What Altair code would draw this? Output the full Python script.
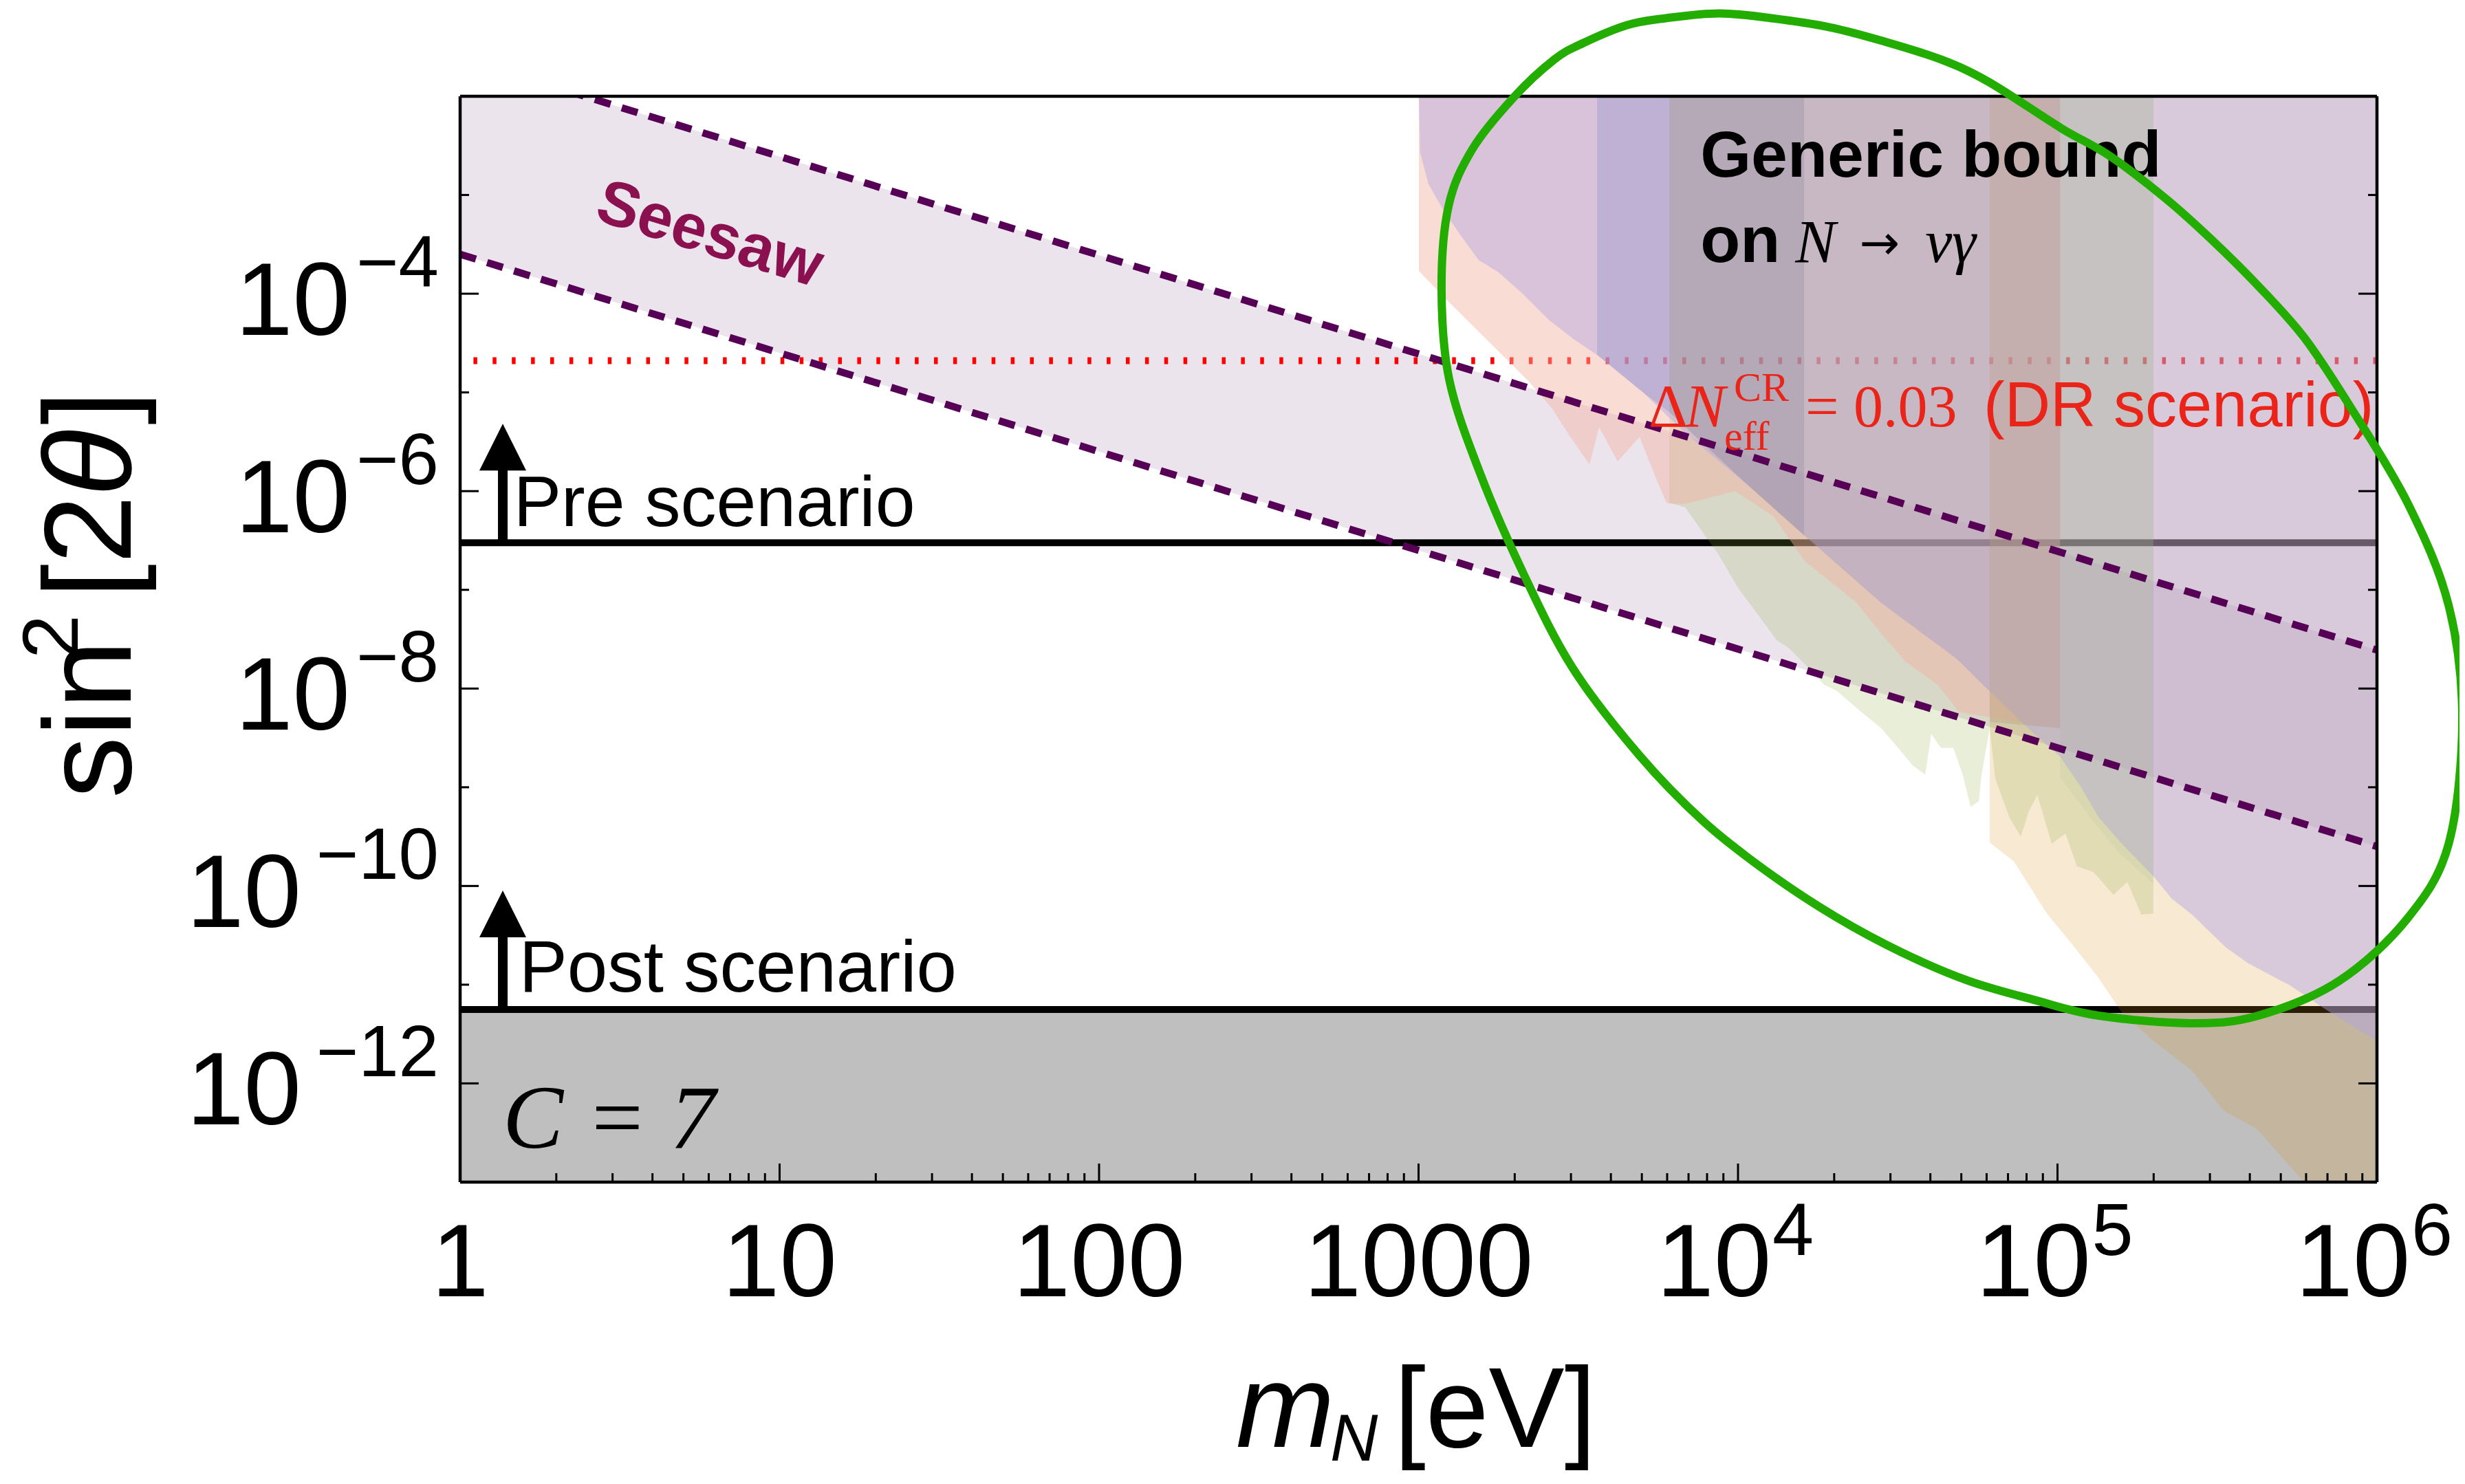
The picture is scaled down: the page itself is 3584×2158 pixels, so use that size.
import altair as alt
import pandas as pd

W, H = 2787, 1579
SANS = "Liberation Sans"
SERIF = "Liberation Serif"
TOP = 1e-2

xs = alt.Scale(type="log", domain=[1, 1e6], nice=False)
ys = alt.Scale(type="log", domain=[1e-13, 1e-2], nice=False)

# ---------------- values ----------------
PRE_LINE = 3.0e-7
POST_LINE = 5.6e-12
DR_LINE = 2.1e-5

SEESAW_M = [1, 1e6]
SEESAW_UPPER_LOG = [-1.61, -7.61]
SEESAW_LOWER_LOG = [-3.60, -9.60]

# X-ray bounds: log10(m), log10 of lower edge (regions extend to the top)
LAV_LOGM = [3.001, 3.005, 3.031, 3.081, 3.130, 3.188, 3.249, 3.326, 3.406, 3.485, 3.559, 3.703,
            3.834, 4.028, 4.209, 4.448, 4.685, 4.788, 4.921, 5.008, 5.070, 5.130, 5.201, 5.300,
            5.358, 5.421, 5.526, 5.595, 5.729, 5.834, 5.903, 6.000]
LAV_LOGS = [-2.00, -2.57, -2.89, -3.17, -3.40, -3.66, -3.78, -4.00, -4.26, -4.46, -4.62, -5.00,
            -5.41, -5.93, -6.45, -7.13, -7.70, -8.03, -8.44, -8.69, -8.98, -9.31, -9.57, -9.90,
            -10.13, -10.29, -10.62, -10.78, -11.01, -11.24, -11.38, -11.57]

SAL_LOGM = [3.001, 3.081, 3.150, 3.249, 3.348, 3.417, 3.475, 3.535, 3.565, 3.623, 3.692, 3.742,
            3.776, 3.834, 3.991, 4.112, 4.209, 4.368, 4.448, 4.525, 4.624, 4.693, 4.788, 5.008]
SAL_LOGS = [-3.77, -4.04, -4.26, -4.58, -4.90, -5.16, -5.45, -5.73, -5.35, -5.70, -5.45, -5.86,
            -6.12, -6.13, -6.00, -6.26, -6.71, -7.12, -7.44, -7.73, -7.96, -8.24, -8.29, -8.40]

GRN_LOGM = [3.785, 3.834, 3.903, 3.933, 4.002, 4.062, 4.121, 4.159, 4.230, 4.269, 4.308, 4.387,
            4.448, 4.506, 4.547, 4.586, 4.605, 4.635, 4.674, 4.704, 4.728, 4.754, 4.762, 4.788,
            4.805, 4.850, 4.885, 4.911, 4.937, 4.982, 5.025, 5.061, 5.113, 5.175, 5.219, 5.262, 5.300]
GRN_LOGS = [-6.12, -6.16, -6.48, -6.61, -6.99, -7.25, -7.51, -7.59, -7.82, -7.96, -8.02, -8.24,
            -8.40, -8.62, -8.78, -8.87, -8.46, -8.60, -8.60, -8.88, -9.20, -9.14, -8.88, -8.40,
            -8.91, -9.31, -9.50, -9.24, -9.08, -9.57, -9.47, -9.80, -9.86, -10.09, -9.96, -10.29, -10.28]

BEI_LOGM = [4.788, 4.863, 4.967, 5.048, 5.126, 5.201, 5.300, 5.421, 5.518, 5.623, 5.772, 6.000]
BEI_LOGS = [-9.56, -9.75, -10.28, -10.60, -10.92, -11.28, -11.57, -11.87, -12.27, -12.46, -13.00, -13.00]

XB_LOGM = [3.559, 3.703, 3.785]
XB_LOGS = [-4.62, -5.00, -5.20]
XC_LOGM = [3.785, 4.028, 4.207]
XC_LOGS = [-5.20, -5.93, -6.45]
XD_LOGM = [4.207, 4.448, 4.685, 4.788]
XD_LOGS = [-6.45, -7.13, -7.70, -8.03]
XE_LOGM = [4.788, 5.008]
XE_LOGS = [-8.34, -8.40]
XF_LOGM = [5.008, 5.104, 5.191, 5.300]
XF_LOGS = [-8.90, -9.31, -9.66, -9.98]

# hand-drawn green ellipse, read point by point
ELL_LOGM = [3.940, 4.105, 4.286, 4.452, 4.635, 4.786, 5.012, 5.163, 5.341, 5.485, 5.628, 5.772,
            5.914, 6.095, 6.224, 6.267, 6.224, 6.095, 5.880, 5.628, 5.419, 5.130, 4.926, 4.719,
            4.512, 4.308, 4.101, 3.895, 3.690, 3.483, 3.330, 3.193, 3.096, 3.072, 3.094, 3.169,
            3.298, 3.425, 3.516, 3.653, 3.774]
ELL_LOGS = [-1.160, -1.209, -1.300, -1.439, -1.627, -1.857, -2.324, -2.603, -3.042, -3.460, -3.920,
            -4.443, -5.132, -6.115, -7.153, -8.310, -9.578, -10.331, -10.965, -11.314, -11.390,
            -11.314, -11.153, -10.958, -10.672, -10.317, -9.878, -9.355, -8.672, -7.794, -6.847,
            -5.822, -4.868, -3.948, -3.111, -2.533, -2.010, -1.627, -1.460, -1.279, -1.209]

# axis ticks / labels
X_MAJOR = [1, 10, 100, 1000, 1e4, 1e5, 1e6]
X_DECADES = [1, 10, 100, 1000, 1e4, 1e5]
X_MULTS = [2, 3, 4, 5, 6, 7, 8, 9]
Y_LONG = [1e-12, 1e-10, 1e-8, 1e-6, 1e-4]
Y_SHORT = [1e-11, 1e-9, 1e-7, 1e-5, 1e-3]
X_PLAIN_VALS = [1, 10, 100, 1000]
X_PLAIN_TEXT = ["1", "10", "100", "1000"]
X_POW_VALS = [1e4, 1e5, 1e6]
X_POW_EXP = ["4", "5", "6"]
Y_LAB_A_VALS = [1e-4, 1e-6, 1e-8]
Y_LAB_A_EXP = ["\u22124", "\u22126", "\u22128"]
Y_LAB_B_VALS = [1e-10, 1e-12]
Y_LAB_B_EXP = ["\u221210", "\u221212"]


# ---------------- helpers ----------------
def X(f="m"):
    return alt.X(f"{f}:Q", scale=xs, axis=None)


def Y(f="s"):
    return alt.Y(f"{f}:Q", scale=ys, axis=None)


def region(logm, logs):
    return pd.DataFrame({"m": [10 ** v for v in logm],
                         "lo": [10 ** v for v in logs],
                         "hi": [TOP] * len(logm)})


def area(logm, logs, color, alpha):
    return alt.Chart(region(logm, logs)).mark_area(
        color=color, opacity=alpha, clip=True, interpolate="linear"
    ).encode(x=X(), y=Y("lo"), y2="hi:Q")


one = pd.DataFrame({"a": [0]})


def label(m, s, text, **kw):
    df = pd.DataFrame({"m": [m], "s": [s], "t": [text]})
    return alt.Chart(df).mark_text(**kw).encode(x=X(), y=Y(), text="t:N")


def fixed_text(x, y, text, **kw):
    return alt.Chart(one).mark_text(**kw).encode(x=alt.value(x), y=alt.value(y), text=alt.value(text))


# ---------------- layers ----------------
gray = alt.Chart(pd.DataFrame({"m0": [1], "m1": [1e6], "s0": [1e-13], "s1": [POST_LINE]})).mark_rect(
    color="#bfbfbf").encode(x=X("m0"), x2="m1:Q", y=Y("s0"), y2="s1:Q")

seesaw_df = pd.DataFrame({"m": SEESAW_M,
                          "lo": [10 ** v for v in SEESAW_LOWER_LOG],
                          "hi": [10 ** v for v in SEESAW_UPPER_LOG]})
seesaw_fill = alt.Chart(seesaw_df).mark_area(color="#ebe4ed", opacity=1, clip=True).encode(
    x=X(), y=Y("lo"), y2="hi:Q")

lines_df = pd.DataFrame({"s": [PRE_LINE, POST_LINE]})
pre_post = alt.Chart(lines_df).mark_rule(color="black", strokeWidth=10).encode(y=Y())

dr = alt.Chart(pd.DataFrame({"s": [DR_LINE]})).mark_rule(
    color="#ff0000", strokeWidth=10, strokeDash=[5.5, 22.4]).encode(y=Y())

xray = [
    area(BEI_LOGM, BEI_LOGS, "#da9022", 0.2),
    area(GRN_LOGM, GRN_LOGS, "#8caa3c", 0.2),
    area(SAL_LOGM, SAL_LOGS, "#f2b19f", 0.45),
    area(LAV_LOGM, LAV_LOGS, "#b1a3e2", 0.45),
    area(XB_LOGM, XB_LOGS, "#8689c6", 0.3),
    area(XC_LOGM, XC_LOGS, "#757a84", 0.3),
    area(XD_LOGM, XD_LOGS, "#969b90", 0.15),
    area(XE_LOGM, XE_LOGS, "#a8977b", 0.3),
    area(XF_LOGM, XF_LOGS, "#a4bf93", 0.15),
]

dash_df = pd.DataFrame({
    "m": SEESAW_M + SEESAW_M,
    "s": [10 ** v for v in SEESAW_UPPER_LOG] + [10 ** v for v in SEESAW_LOWER_LOG],
    "g": ["up", "up", "lo", "lo"]})
dashes = alt.Chart(dash_df).mark_line(
    color="#560056", strokeWidth=10.5, strokeDash=[24, 17], clip=True).encode(x=X(), y=Y(), detail="g:N")

# frame and ticks
frame = [
    alt.Chart(one).mark_rule(color="black", strokeWidth=4.5).encode(x=alt.value(0), x2=alt.value(W), y=alt.value(0)),
    alt.Chart(one).mark_rule(color="black", strokeWidth=4.5).encode(x=alt.value(0), x2=alt.value(W), y=alt.value(H)),
    alt.Chart(one).mark_rule(color="black", strokeWidth=4.5).encode(x=alt.value(0), y=alt.value(0), y2=alt.value(H)),
    alt.Chart(one).mark_rule(color="black", strokeWidth=4.5).encode(x=alt.value(W), y=alt.value(0), y2=alt.value(H)),
]
x_minor = [d * k for d in X_DECADES for k in X_MULTS]
ticks = [
    alt.Chart(pd.DataFrame({"m": X_MAJOR[1:-1]})).mark_rule(color="black", strokeWidth=3).encode(
        x=X(), y=alt.value(H), y2=alt.value(H - 27)),
    alt.Chart(pd.DataFrame({"m": x_minor})).mark_rule(color="black", strokeWidth=3).encode(
        x=X(), y=alt.value(H), y2=alt.value(H - 13)),
    alt.Chart(pd.DataFrame({"s": Y_LONG})).mark_rule(color="black", strokeWidth=3).encode(
        y=Y(), x=alt.value(0), x2=alt.value(27)),
    alt.Chart(pd.DataFrame({"s": Y_SHORT})).mark_rule(color="black", strokeWidth=3).encode(
        y=Y(), x=alt.value(0), x2=alt.value(13)),
    alt.Chart(pd.DataFrame({"s": Y_LONG})).mark_rule(color="black", strokeWidth=3).encode(
        y=Y(), x=alt.value(W - 27), x2=alt.value(W)),
    alt.Chart(pd.DataFrame({"s": Y_SHORT})).mark_rule(color="black", strokeWidth=3).encode(
        y=Y(), x=alt.value(W - 13), x2=alt.value(W)),
]

# tick labels
tick_labels = [
    alt.Chart(pd.DataFrame({"m": X_PLAIN_VALS, "t": X_PLAIN_TEXT})).mark_text(
        font=SANS, fontSize=150, align="center", baseline="alphabetic").encode(
        x=X(), y=alt.value(H + 166), text="t:N"),
    alt.Chart(pd.DataFrame({"m": X_POW_VALS, "t": ["10"] * 3})).mark_text(
        font=SANS, fontSize=150, align="center", baseline="alphabetic", dx=-35).encode(
        x=X(), y=alt.value(H + 166), text="t:N"),
    alt.Chart(pd.DataFrame({"m": X_POW_VALS, "t": X_POW_EXP})).mark_text(
        font=SANS, fontSize=108, align="left", baseline="alphabetic", dx=50).encode(
        x=X(), y=alt.value(H + 106), text="t:N"),
    alt.Chart(pd.DataFrame({"s": Y_LAB_A_VALS, "t": ["10"] * 3})).mark_text(
        font=SANS, fontSize=150, align="right", baseline="alphabetic", dy=60).encode(
        y=Y(), x=alt.value(-160), text="t:N"),
    alt.Chart(pd.DataFrame({"s": Y_LAB_B_VALS, "t": ["10"] * 2})).mark_text(
        font=SANS, fontSize=150, align="right", baseline="alphabetic", dy=60).encode(
        y=Y(), x=alt.value(-231), text="t:N"),
    alt.Chart(pd.DataFrame({"s": Y_LAB_A_VALS + Y_LAB_B_VALS, "t": Y_LAB_A_EXP + Y_LAB_B_EXP})).mark_text(
        font=SANS, fontSize=105, align="right", baseline="alphabetic", dy=-10).encode(
        y=Y(), x=alt.value(-31), text="t:N"),
]

# axis titles
titles = [
    fixed_text(1128, 1964, "m", font=SANS, fontSize=172, fontStyle="italic", align="left", baseline="alphabetic"),
    fixed_text(1265, 1984, "N", font=SANS, fontSize=96, fontStyle="italic", align="left", baseline="alphabetic"),
    fixed_text(1358, 1964, "[eV]", font=SANS, fontSize=165, align="left", baseline="alphabetic"),
    fixed_text(-479, 1021, "sin", font=SANS, fontSize=180, angle=270, align="left", baseline="alphabetic"),
    fixed_text(-556, 818, "2", font=SANS, fontSize=115, angle=270, align="left", baseline="alphabetic"),
    fixed_text(-479, 730, "[2", font=SANS, fontSize=180, angle=270, align="left", baseline="alphabetic"),
    fixed_text(-479, 582, "\u03b8", font=SANS, fontSize=180, fontStyle="italic", angle=270, align="left",
               baseline="alphabetic"),
    fixed_text(-479, 478, "]", font=SANS, fontSize=180, angle=270, align="left", baseline="alphabetic"),
]

# annotations
RED = "#ea2418"
ann = [
    label(6.04, 3.94e-4, "Seesaw", font=SANS, fontSize=92, fontWeight="bold", color="#8a1050",
          angle=17, align="center", baseline="middle"),
    label(1.47, PRE_LINE, "Pre scenario", font=SANS, fontSize=104, align="left", baseline="alphabetic", dy=-24),
    label(1.53, POST_LINE, "Post scenario", font=SANS, fontSize=105, align="left", baseline="alphabetic", dy=-26),
    label(1.36, 2.23e-13, "C = 7", font=SERIF, fontSize=132, fontStyle="italic", align="left", baseline="alphabetic"),
    label(7620, 1.54e-3, "Generic bound", font=SANS, fontSize=95, fontWeight="bold", align="left", baseline="alphabetic"),
    label(7620, 2.11e-4, "on", font=SANS, fontSize=95, fontWeight="bold", align="left", baseline="alphabetic"),
    label(15100, 2.11e-4, "N", font=SERIF, fontSize=88, fontStyle="italic", align="left", baseline="alphabetic"),
    label(23990, 2.11e-4, "\u2192", font="DejaVu Sans", fontSize=70, align="left", baseline="alphabetic", dy=-4),
    label(38550, 2.11e-4, "\u03bd\u03b3", font=SERIF, fontSize=88, fontStyle="italic", align="left", baseline="alphabetic"),
    label(5248, 4.56e-6, "\u0394", font=SERIF, fontSize=88, color=RED, align="left", baseline="alphabetic"),
    label(6830, 4.56e-6, "N", font=SERIF, fontSize=88, fontStyle="italic", color=RED, align="left", baseline="alphabetic"),
    label(9705, 8.25e-6, "CR", font=SERIF, fontSize=60, color=RED, align="left", baseline="alphabetic"),
    label(9060, 2.64e-6, "eff", font=SERIF, fontSize=60, color=RED, align="left", baseline="alphabetic"),
    label(16255, 4.56e-6, "= 0.03", font=SERIF, fontSize=86, color=RED, align="left", baseline="alphabetic"),
    label(58700, 4.56e-6, "(DR scenario)", font=SANS, fontSize=92, color=RED, align="left", baseline="alphabetic"),
]

arrow_df = pd.DataFrame({"m": [1.36, 1.36], "s": [PRE_LINE, POST_LINE]})
arrows = [
    alt.Chart(arrow_df).mark_rule(color="black", strokeWidth=14, y2Offset=-115).encode(
        x=X(), y=Y(), y2="s:Q"),
    alt.Chart(arrow_df).mark_point(shape="M0,-1L1,1L-1,1Z", size=4624, filled=True, color="black",
                                   opacity=1, yOffset=-139).encode(x=X(), y=Y()),
]

ell_df = pd.DataFrame({"m": [10 ** v for v in ELL_LOGM], "s": [10 ** v for v in ELL_LOGS],
                       "i": list(range(len(ELL_LOGM)))})
ellipse = alt.Chart(ell_df).mark_line(color="#22ad00", strokeWidth=12, interpolate="cardinal-closed").encode(
    x=X(), y=Y(), order="i:Q")

chart = alt.layer(
    gray, seesaw_fill, pre_post, dr, *xray, dashes, *frame, *ticks, *tick_labels, *titles, *ann, *arrows, ellipse
).properties(
    width=W, height=H,
    autosize=alt.AutoSizeParams(type="none"),
    padding={"left": 661, "top": 132, "right": 120, "bottom": 430},
    background="white",
).configure_view(stroke=None)

chart.save("out.html", embed_options={"renderer": "svg", "actions": False})
